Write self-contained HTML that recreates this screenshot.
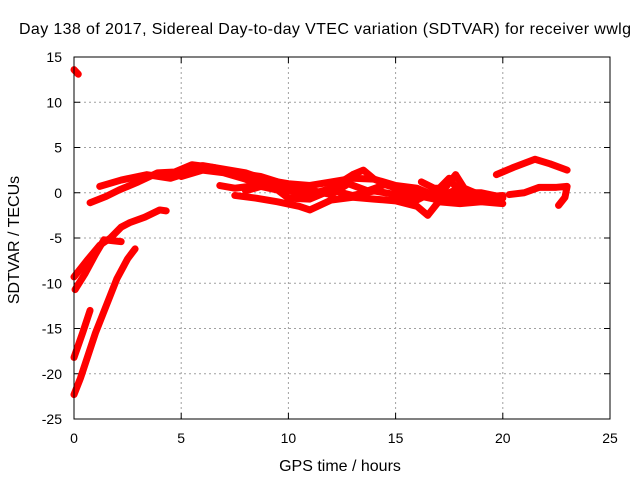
<!DOCTYPE html>
<html><head><meta charset="utf-8"><style>
body{margin:0;background:#fff}
svg text{font-family:"Liberation Sans",Arial,sans-serif;fill:#000}
</style></head><body>
<svg width="640" height="480" viewBox="0 0 640 480" id="chart">
<rect x="0" y="0" width="640" height="480" fill="#fff"/>
<text x="325" y="34" font-size="16" text-anchor="middle" textLength="612">Day 138 of 2017, Sidereal Day-to-day VTEC variation (SDTVAR) for receiver wwlg</text>
<text x="340" y="471" font-size="16" text-anchor="middle">GPS time / hours</text>
<text transform="translate(19,240) rotate(-90)" font-size="16" text-anchor="middle">SDTVAR / TECUs</text>
<g id="grid"></g><g id="ticks"></g><g id="series"></g>
<rect x="74" y="57" width="536" height="362" fill="none" stroke="#000" stroke-width="1"/>
</svg>
<script>
const xTicks=[0,5,10,15,20,25];
const yTicks=[15,10,5,0,-5,-10,-15,-20,-25];
const sA=[[0,-22.3],[0.3,-20.5],[1,-15.5],[1.5,-12.5],[2,-9.5],[2.5,-7.3],[2.85,-6.2]];
const sB=[[0,-18.2],[0.4,-15.5],[0.75,-13]];
const sC=[[0.05,-10.7],[0.5,-9],[1,-6.8],[1.4,-5.2],[2.2,-5.4]];
const sD=[[0,-9.3],[0.6,-7.5],[1.2,-5.8],[1.7,-5],[2.2,-3.8],[2.6,-3.3],[3.3,-2.7],[4,-1.9],[4.3,-2]];
const sTop=[[0,13.6],[0.2,13.1]];
const sE=[[0.75,-1.1],[1.5,-0.4],[2.1,0.3],[3,1.2],[3.9,2.2],[4.7,2.3],[5.5,3.1],[6.5,2.8],[7.5,2.2],[8.7,1.8],[9.5,1.2]];
const sF=[[1.2,0.7],[2.2,1.4],[3.4,2],[4.5,1.6],[5.3,2.2],[6,2.6],[7,2.3]];
const s1=[[5,2.5],[6,3],[7,2.6],[8,2.2],[9,1.4],[10,1.0],[11,0.8],[12,1.2],[13,1.6],[14,1.5],[15,0.5],[16,-0.3],[17,-0.8],[18,-0.8],[19,-0.5],[20,-0.3]];
const s2=[[5,1.8],[6,2.5],[7,2.2],[8,1.5],[9,0.6],[10,0.2],[11,-0.2],[12,0.5],[13,2.0],[13.5,2.5],[14,1.5],[15,0.8],[16,0.5],[17,-0.5],[18,0.5],[19,-0.5],[20,-0.6]];
const s3=[[7.5,-0.3],[8.5,-0.6],[9.5,-1.0],[10.5,-1.5],[11,-1.9],[12,-0.8],[13,-0.5],[14,-0.7],[15,-0.9],[16,-1.5],[16.5,-2.5],[17,-1.0],[18,-1.2],[19,-1.0],[20,-1.2]];
const s4=[[6.8,0.8],[7.5,0.5],[8.5,0.8],[9.5,0.3],[10,-0.6],[11,-0.7],[12,0.3],[13,-0.3],[14,0.2],[15,-0.2],[16,-0.8],[17,0.4],[17.5,1.6],[18,0],[19,0],[20,-0.5]];
const s5=[[16.2,1.2],[16.8,0.5],[17.3,0.5],[17.8,2.0],[18.2,0.5],[19,-0.3]];
const s6=[[8,0.2],[9,0.9],[10,0.4],[11,0.3],[12,-0.2],[12.8,1.0],[13.7,0.2],[14.5,0.9],[15.5,0.2],[16.5,0.0],[17.5,-0.3],[18.5,-0.6],[19.5,-0.8]];
const sG=[[19.7,2],[20.5,2.8],[21.5,3.7],[22.2,3.2],[23,2.5]];
const sH=[[20.3,-0.2],[21,0],[21.7,0.6],[22.5,0.6],[23,0.7],[22.9,-0.5],[22.6,-1.4]];
const allSeries=[sA,sB,sC,sD,sTop,sE,sF,s1,s2,s3,s4,s5,s6,sG,sH];
const X0=74,X1=610,Y0=419,Y1=57;
const xs=v=>X0+(v-0)/(25-0)*(X1-X0);
const ys=v=>Y0-(v+25)/(15+25)*(Y0-Y1);
const NS="http://www.w3.org/2000/svg";
const grid=document.getElementById('grid'),ticks=document.getElementById('ticks'),ser=document.getElementById('series');
function mk(tag,attrs,parent){const e=document.createElementNS(NS,tag);for(const k in attrs)e.setAttribute(k,attrs[k]);parent.appendChild(e);return e;}
xTicks.forEach(t=>{const x=xs(t);
 if(t>0&&t<25){const g=mk('line',{x1:x,y1:Y1,x2:x,y2:Y0,stroke:'#a0a0a0','stroke-dasharray':'2,3'},grid);
 
 }
 mk('line',{x1:x,y1:Y0,x2:x,y2:Y0-6,stroke:'#000'},ticks);mk('line',{x1:x,y1:Y1,x2:x,y2:Y1+6,stroke:'#000'},ticks);
 const l=mk('text',{x:x,y:Y0+24,'font-size':'14','text-anchor':'middle'},ticks);l.textContent=t;
 
 });
yTicks.forEach(t=>{const y=ys(t);
 if(t>-25&&t<15){const g=mk('line',{x1:X0,y1:y,x2:X1,y2:y,stroke:'#a0a0a0','stroke-dasharray':'2,3'},grid);
 
 }
 mk('line',{x1:X0,y1:y,x2:X0+6,y2:y,stroke:'#000'},ticks);mk('line',{x1:X1,y1:y,x2:X1-6,y2:y,stroke:'#000'},ticks);
 const l=mk('text',{x:X0-12,y:y+5,'font-size':'14','text-anchor':'end'},ticks);l.textContent=t;
 
 });
allSeries.forEach((s,i)=>{const p=mk('polyline',{points:s.map(d=>xs(d[0])+','+ys(d[1])).join(' '),fill:'none',stroke:'#ff0000','stroke-width':'7','stroke-linejoin':'round','stroke-linecap':'round'},ser);
 
 });
</script>
</body></html>
